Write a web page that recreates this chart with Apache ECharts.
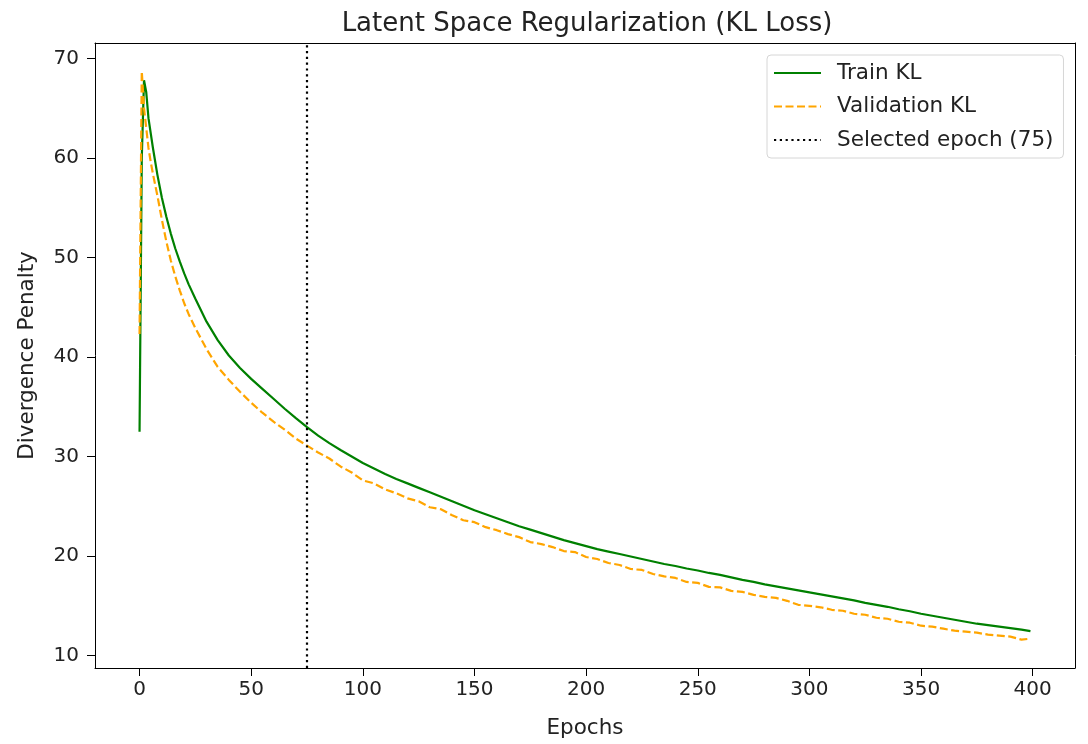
<!DOCTYPE html>
<html>
<head>
<meta charset="utf-8">
<script src="https://cdn.jsdelivr.net/npm/echarts@6/dist/echarts.min.js"></script>
<style>
  html, body { margin: 0; padding: 0; background: #fff; }
  #chart { width: 1088px; height: 744px; }
</style>
</head>
<body>
<div id="chart"></div>
<script>
const epochs = [0, 1, 2, 3, 4, 5, 6, 8, 10, 12, 14, 16, 18, 20, 22, 25,
  30, 35, 40, 45, 50, 55, 60, 65, 70, 75, 80, 85, 90, 95,
  100, 105, 110, 115, 120, 125, 130, 135, 140, 145,
  150, 155, 160, 165, 170, 175, 180, 185, 190, 195,
  200, 205, 210, 215, 220, 225, 230, 235, 240, 245,
  250, 255, 260, 265, 270, 275, 280, 285, 290, 295,
  300, 305, 310, 315, 320, 325, 330, 335, 340, 345,
  350, 355, 360, 365, 370, 375, 380, 385, 390, 395, 399]

const trainKL = [32.5, 60.0, 67.8, 66.6, 64.0, 62.5, 61.0, 58.3, 56.0, 54.1, 52.4, 50.9, 49.6, 48.4, 47.3, 45.85,
  43.55, 41.7, 40.15, 38.9, 37.8, 36.8, 35.8, 34.8, 33.85, 32.95, 32.1, 31.35, 30.65, 30.0,
  29.35, 28.8, 28.25, 27.75, 27.3, 26.85, 26.4, 25.95, 25.5, 25.05,
  24.6, 24.2, 23.8, 23.4, 23.0, 22.65, 22.3, 21.95, 21.6, 21.3,
  21.0, 20.7, 20.45, 20.2, 19.95, 19.7, 19.45, 19.2, 19.0, 18.75,
  18.55, 18.3, 18.1, 17.85, 17.6, 17.4, 17.15, 16.95, 16.75, 16.55,
  16.35, 16.15, 15.95, 15.75, 15.55, 15.3, 15.1, 14.9, 14.65, 14.45,
  14.2, 14.0, 13.8, 13.6, 13.4, 13.2, 13.05, 12.9, 12.75, 12.6, 12.45]

const valKL = [42.3, 68.7, 65.0, 63.0, 61.0, 59.6, 58.4, 56.2, 53.8, 51.6, 49.7, 48.1, 46.7, 45.4, 44.3, 42.9,
  40.8, 39.0, 37.7, 36.5, 35.4, 34.4, 33.5, 32.7, 31.8, 31.1, 30.4, 29.8, 29.0, 28.4,
  27.6, 27.3, 26.7, 26.3, 25.8, 25.5, 24.9, 24.7, 24.1, 23.6,
  23.4, 22.9, 22.6, 22.2, 21.9, 21.4, 21.2, 20.9, 20.5, 20.4,
  19.9, 19.7, 19.3, 19.1, 18.7, 18.6, 18.2, 17.95, 17.8, 17.4,
  17.3, 16.9, 16.85, 16.5, 16.4, 16.1, 15.9, 15.8, 15.5, 15.1,
  15.0, 14.85, 14.6, 14.5, 14.2, 14.1, 13.8, 13.7, 13.4, 13.3,
  13.0, 12.9, 12.7, 12.5, 12.4, 12.3, 12.1, 12.0, 11.9, 11.6, 11.7]

const selectedEpoch = 75
const xTicks = [0, 50, 100, 150, 200, 250, 300, 350, 400]
const yTicks = [10, 20, 30, 40, 50, 60, 70]

const font = 'DejaVu Sans'
const txt = '#222'

const chart = echarts.init(document.getElementById('chart'))

const frameAxis = {
    axisLine: { show: true, onZero: false, lineStyle: { color: '#000', width: 1 } },
    axisTick: { show: false },
    axisLabel: { show: false },
    splitLine: { show: false }
}

const option = {
    backgroundColor: '#fff',
    animation: false,
    title: {
        text: 'Latent Space Regularization (KL Loss)',
        left: 582,
        textAlign: 'center',
        top: 6,
        textStyle: { fontFamily: font, fontSize: 26, fontWeight: 'normal', color: txt }
    },
    legend: {
        left: 767,
        top: 55,
        orient: 'vertical',
        backgroundColor: '#fff',
        borderColor: '#d6d6d6',
        borderWidth: 1,
        borderRadius: 4,
        padding: [7, 10, 7, 6],
        itemWidth: 47,
        itemHeight: 14,
        itemGap: 11.5,
        itemStyle: { opacity: 0 },
        textStyle: { fontFamily: font, fontSize: 21.5, color: txt, lineHeight: 22, padding: [0, 0, 0, 11] },
        data: ['Train KL', 'Validation KL', 'Selected epoch (75)']
    },
    grid: { left: 95, top: 43, width: 980, height: 632, containLabel: false },
    xAxis: [{
        type: 'value',
        min: -19.95,
        max: 418.95,
        name: 'Epochs',
        nameLocation: 'middle',
        nameGap: 49,
        nameTextStyle: { fontFamily: font, fontSize: 21.5, color: txt },
        axisLine: { show: true, onZero: false, lineStyle: { color: '#000', width: 1 } },
        axisTick: { show: true, length: 8, lineStyle: { color: '#000' }, customValues: xTicks },
        axisLabel: { fontFamily: font, fontSize: 20, color: txt, margin: 12, customValues: xTicks },
        splitLine: { show: false }
    }, Object.assign({ type: 'value', min: -19.95, max: 418.95, position: 'top' }, frameAxis)],
    yAxis: [{
        type: 'value',
        min: 8.75,
        max: 71.55,
        name: 'Divergence Penalty',
        nameLocation: 'middle',
        nameGap: 57,
        nameTextStyle: { fontFamily: font, fontSize: 21.5, color: txt },
        axisLine: { show: true, onZero: false, lineStyle: { color: '#000', width: 1 } },
        axisTick: { show: true, length: 8, lineStyle: { color: '#000' }, customValues: yTicks },
        axisLabel: { fontFamily: font, fontSize: 20, color: txt, margin: 16, customValues: yTicks },
        splitLine: { show: false }
    }, Object.assign({ type: 'value', min: 8.75, max: 71.55, position: 'right' }, frameAxis)],
    series: [
        {
            name: 'Train KL',
            type: 'line',
            symbol: 'none',
            data: epochs.map((e, i) => [e, trainKL[i]]),
            itemStyle: { color: '#008000' },
            lineStyle: { color: '#008000', width: 2.2 },
            z: 3
        },
        {
            name: 'Validation KL',
            type: 'line',
            symbol: 'none',
            data: epochs.map((e, i) => [e, valKL[i]]),
            itemStyle: { color: '#FFA500' },
            lineStyle: { color: '#FFA500', width: 2.2, type: [8, 3.5] },
            z: 4
        },
        {
            name: 'Selected epoch (75)',
            type: 'line',
            symbol: 'none',
            data: [],
            itemStyle: { color: '#000' },
            lineStyle: { color: '#000', width: 2.2, type: [2.2, 3.6] },
            markLine: {
                silent: true,
                symbol: 'none',
                label: { show: false },
                lineStyle: { color: '#000', width: 2.2, type: [2.2, 3.6] },
                data: [{ xAxis: selectedEpoch }]
            },
            z: 2
        }
    ]
}

chart.setOption(option)
</script>
</body>
</html>
